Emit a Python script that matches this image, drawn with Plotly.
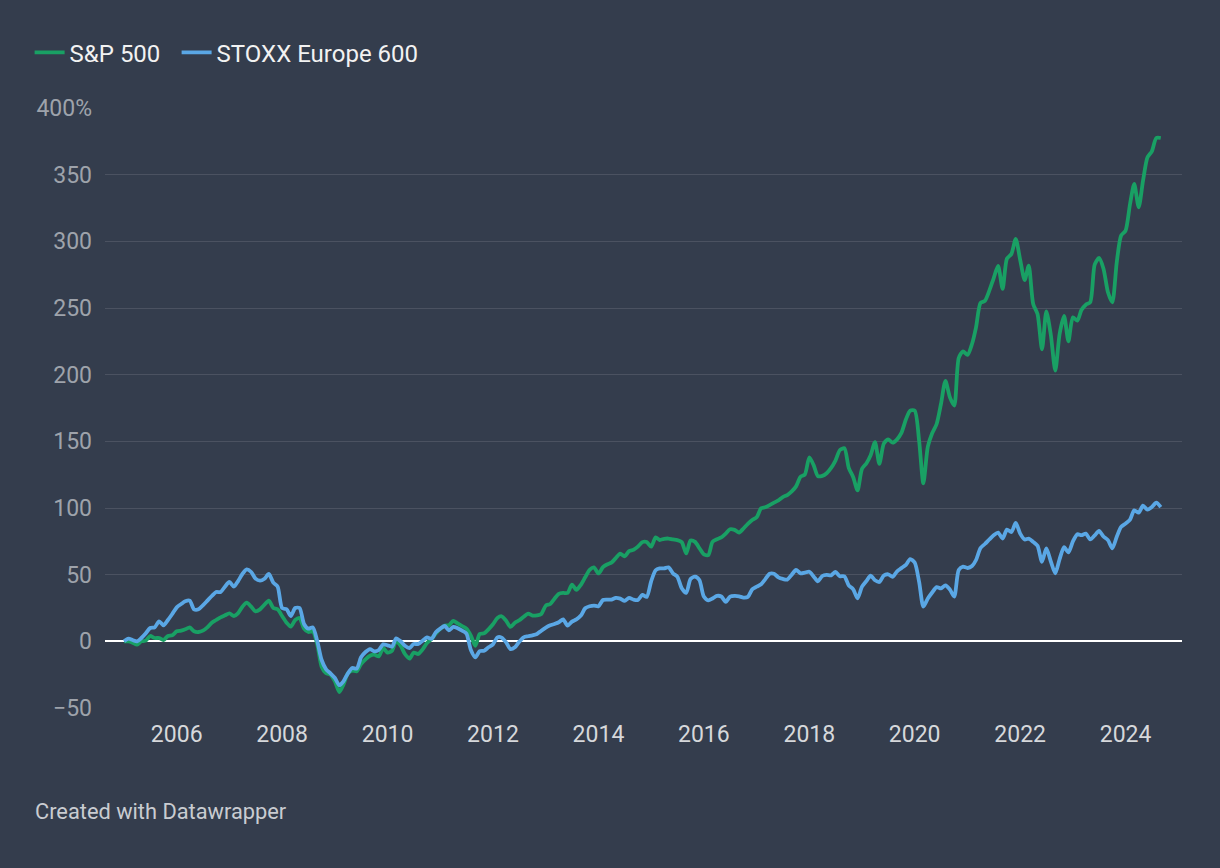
import pandas as pd
import plotly.graph_objects as go

# Monthly values, Jan 2005 - Sep 2024, % change since Jan 2005
sp500 = [
    0, 0, -1, -2.5, 0, 0.5, 4, 2.5, 2.5, 1, 4, 4.5,                      # 2005
    7.5, 8, 9, 10.5, 7.5, 7, 8, 10.5, 14, 16, 18, 19.5,                  # 2006
    21, 19, 21, 26, 29, 26, 22.5, 24, 27.5, 30.5, 25, 24,                # 2007
    19, 14, 11, 16, 17.5, 9.5, 7, 7.5, -2.5, -19, -24, -25,              # 2008
    -30, -38, -32.5, -24, -22, -22.5, -17, -13.5, -10.8, -10, -11.3, -5, # 2009
    -8.5, -7, 0.3, -3.3, -9.5, -13, -8.5, -9.5, -6, -1.3, 1.8, 5.8,      # 2010
    9.3, 11.8, 12, 15.3, 13.5, 11.5, 9.5, 4.3, -3.3, 5.5, 6, 9,          # 2011
    12.8, 17.5, 18.8, 15.5, 10.8, 14, 15.8, 18.5, 20.8, 19.3, 19.5, 20.5,# 2012
    26.8, 28, 31.8, 35.6, 36.3, 36.3, 42.6, 38.6, 42.4, 48, 53.6, 55.4,  # 2013
    50.9, 55.6, 57.6, 59, 62.4, 65.7, 63.7, 67.7, 68.7, 71, 74.4, 74.5,  # 2014
    71, 78, 76, 76.9, 77.1, 76.4, 75.9, 74.4, 65.9, 75.6, 74.6, 69.9,    # 2015
    65.2, 64.7, 74.6, 76.6, 77.9, 80.8, 84.1, 83.6, 81.6, 84.6, 88.1, 91,# 2016
    93, 99.8, 100.5, 102.2, 104, 105.7, 108.2, 109.7, 112.4, 116.2, 123.4, 125.1,  # 2017
    138, 131.8, 123.9, 124.1, 126.1, 130.1, 135.6, 143.5, 144.8, 130.1, 123.1, 113.2,  # 2018
    129.4, 133.6, 139.3, 149.3, 133.1, 148.3, 151.5, 149, 151.5, 156.3, 166.4, 173,    # 2019
    173, 150, 118.5, 146, 156, 163, 178, 195.3, 183, 176.8, 212.5, 217.5,              # 2020
    214.8, 223, 235.5, 253.8, 255.3, 263, 272.3, 281.5, 264.3, 287, 290.5, 301.8,      # 2021
    286, 271, 281.8, 253, 245.5, 219, 247.5, 230, 203, 230.5, 244, 225,                # 2022
    243, 240.5, 248.5, 252.5, 254.3, 282.5, 287.5, 279.5, 261.8, 254.3, 284.3, 304.3,  # 2023
    308, 328, 343, 325.5, 345.5, 363, 367.5, 377.5, 377.5,                             # 2024
]

stoxx600 = [
    0, 2, 1, 0, 2.5, 6, 10, 10.5, 15, 12, 16, 20.5,                      # 2005
    25.5, 28, 30, 30.5, 24, 24, 27, 30.5, 34, 37, 37, 41,                # 2006
    44.5, 41, 45, 50.5, 54, 52, 47, 45.5, 47, 50.5, 44, 41,              # 2007
    25, 24, 19, 25, 25, 13, 9.5, 10.5, 0, -14, -21, -24,                 # 2008
    -27.5, -33, -30, -24, -20, -20.5, -12, -8, -5.8, -7.5, -6.5, -2.3,   # 2009
    -3, -4, 2.3, 0, -3.3, -5, -2, -2, 0.5, 3, 1.8, 6.8,                  # 2010
    9.5, 11.5, 8.3, 10.8, 9.8, 8, 5.8, -6.5, -12, -7.3, -7, -4.5,        # 2011
    -2.3, 3, 2.8, -0.8, -5.8, -4.5, -0.3, 3, 3.8, 4.5, 5.5, 8,           # 2012
    10.3, 12, 13, 14.3, 16.5, 11.8, 14.8, 16.5, 19.3, 24.8, 26.3, 26.8,  # 2013
    26.3, 31, 31.3, 31.3, 32.6, 32, 30.3, 32.6, 31.3, 31, 34.8, 33.3,    # 2014
    45, 53.3, 54.7, 54.7, 55.5, 51, 48.5, 39.8, 36.3, 46.8, 48.5, 46,    # 2015
    33.6, 30.8, 32.1, 34.1, 33.6, 29.6, 33.6, 34.1, 33.8, 32.8, 33.3, 39,# 2016
    41, 42.8, 46.5, 50.7, 50.7, 48, 46.8, 46.3, 50, 53.5, 51, 51.5,      # 2017
    52.2, 48.5, 45, 49, 49.8, 49.5, 52, 48.8, 48.8, 42, 39, 32.3,        # 2018
    41, 45.3, 49.3, 45.8, 44.5, 49.4, 50.3, 48.4, 52.5, 54.9, 57.4, 61.7,# 2019
    59.1, 44.4, 26.1, 32.1, 36.6, 40.7, 39.7, 42, 38.8, 33.6, 53.5, 56,  # 2020
    55, 56.5, 61, 70, 73, 76.4, 79.6, 81.6, 77.1, 83.8, 82, 88.8,        # 2021
    80.8, 76.4, 77.1, 74.6, 71.6, 59.7, 69.7, 60, 51, 61.7, 70.6, 66.7,  # 2022
    74.9, 80.3, 79.6, 80.8, 76.4, 79.4, 82.8, 78.6, 75.9, 69.7, 78.4, 85.8,  # 2023
    88.3, 91.3, 98.3, 96.5, 101.7, 98.8, 100.7, 104, 100.7,                   # 2024
]

months = pd.date_range("2005-01-01", periods=len(sp500), freq="MS")

x_tick_years = [2006, 2008, 2010, 2012, 2014, 2016, 2018, 2020, 2022, 2024]
y_tick_vals = [-50, 0, 50, 100, 150, 200, 250, 300, 350, 400]
y_tick_text = ["\u221250", "0", "50", "100", "150", "200", "250", "300", "350", "400%"]

BG = "#343d4d"
GREEN = "#19a064"
BLUE = "#5aa7e5"
FONT = "Roboto"

fig = go.Figure()
fig.add_trace(go.Scatter(
    x=months, y=sp500, name="S&P 500", mode="lines",
    line=dict(color=GREEN, width=3.8, shape="spline", smoothing=0.7),
    cliponaxis=False, legendwidth=102,
))
fig.add_trace(go.Scatter(
    x=months, y=stoxx600, name="STOXX Europe 600", mode="lines",
    line=dict(color=BLUE, width=3.8, shape="spline", smoothing=0.7),
    cliponaxis=False,
))

fig.update_layout(
    width=1220, height=868,
    paper_bgcolor=BG, plot_bgcolor=BG,
    margin=dict(l=105, r=38, t=108, b=160),
    font=dict(family=FONT, size=23, color="#eeeeee"),
    showlegend=True,
    legend=dict(
        orientation="h", x=-0.070, xanchor="left", y=1.092, yanchor="middle",
        font=dict(family=FONT, size=24, color="#f2f2f2"),
        bgcolor="rgba(0,0,0,0)", itemclick=False, itemdoubleclick=False,
        tracegroupgap=0,
    ),
    xaxis=dict(
        type="date",
        range=["2004-08-22", "2025-01-26"],
        tickvals=[pd.Timestamp(f"{y}-01-01") for y in x_tick_years],
        ticktext=[str(y) for y in x_tick_years],
        showgrid=False, zeroline=False, showline=False, ticks="",
        tickfont=dict(family=FONT, size=23, color="#d6d8db"),
        ticklabelstandoff=10,
        fixedrange=True,
    ),
    yaxis=dict(
        range=[-50, 400],
        tickvals=y_tick_vals, ticktext=y_tick_text,
        showgrid=True, gridcolor="#4b5261", gridwidth=1,
        zeroline=True, zerolinecolor="#ffffff", zerolinewidth=2,
        showline=False, ticks="",
        tickfont=dict(family=FONT, size=23, color="#9ea3ab"),
        ticklabelstandoff=12,
        fixedrange=True,
    ),
    annotations=[dict(
        text="Created with Datawrapper", xref="paper", yref="paper",
        x=-0.067, y=-0.172, xanchor="left", yanchor="middle", showarrow=False,
        font=dict(family=FONT, size=21.8, color="#c9ccd1"),
    )],
)

fig.write_html(
    "out.html",
    config={"displayModeBar": False},
    post_script="document.body.style.margin='0';document.body.style.overflow='hidden';",
)
